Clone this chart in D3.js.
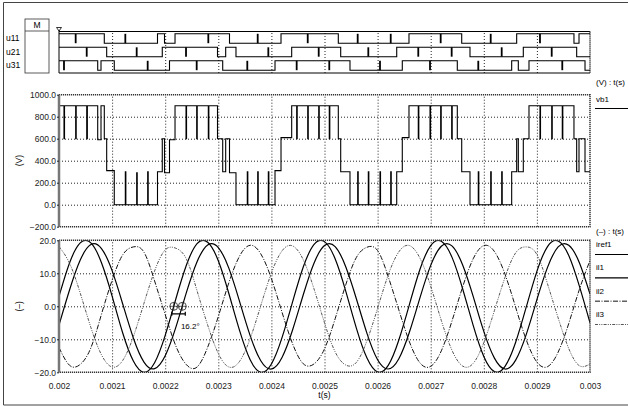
<!DOCTYPE html>
<html>
<head>
<meta charset="utf-8">
<script src="https://cdn.jsdelivr.net/npm/d3@7"></script>
<style>
  body { margin: 0; background: #fff; }
  svg { display: block; font-family: "Liberation Sans", Arial, sans-serif; }
  .grid line { stroke: #222; stroke-dasharray: 1,2; }
  .grid path { display: none; }
  .ticks path { display: none; }
  .ticks line { stroke: #222; }
  .ticks text { font-size: 8.5px; fill: #222; font-family: "Liberation Sans", Arial, sans-serif; }
</style>
</head>
<body>
<svg id="chart" width="628" height="407"></svg>
<script>
// ---------------- DATA ----------------

const timeDomain = [0.002, 0.003];
const timeTicks = [0.002, 0.0021, 0.0022, 0.0023, 0.0024, 0.0025, 0.0026, 0.0027, 0.0028, 0.0029, 0.003];
const gridTimes = [0.0021, 0.0022, 0.0023, 0.0024, 0.0025, 0.0026, 0.0027, 0.0028, 0.0029];

// digital gate signals: start level, switching instants, narrow pulses
const digitalNames = ["u11", "u21", "u31"];
const digitalStart = [1, 1, 1];
const u11Edges = [0.0020853, 0.0021855, 0.0021987, 0.0022185, 0.0023211, 0.0024181, 0.002526, 0.0026591, 0.0027584, 0.0028619, 0.0029698, 0.0029793];
const u11Pulses = [0.0020314, 0.0021249, 0.0022812, 0.0023742, 0.0024684, 0.0025625, 0.0026247, 0.0027188, 0.002813, 0.0029058];
const u21Edges = [0.0020898, 0.0021945, 0.0022985, 0.0023139, 0.0023333, 0.0024382, 0.0025305, 0.002636, 0.002774, 0.0028744, 0.0029749];
const u21Pulses = [0.0020522, 0.0021463, 0.0022392, 0.0023942, 0.0024891, 0.0025825, 0.0026766, 0.0027395, 0.0028337, 0.0029279];
const u31Edges = [0.0020729, 0.0020791, 0.0021041, 0.0022081, 0.0023083, 0.0024068, 0.002548, 0.0026465, 0.0027501, 0.0028525, 0.002865, 0.0028851, 0.0029906];
const u31Pulses = [0.0020094, 0.002167, 0.0022593, 0.0023546, 0.0024476, 0.002509, 0.0026045, 0.0026987, 0.0027896, 0.0029478];

// vb1 (V): step points [time, level]
const vb1 = [
  [0.002, 900],
  [0.0020094, 600], [0.0020104, 900],
  [0.0020314, 600], [0.0020324, 900],
  [0.0020522, 600], [0.0020534, 900],
  [0.0020729, 590], [0.0020791, 900], [0.0020853, 600], [0.0020898, 310], [0.0021041, 0],
  [0.0021249, 300], [0.0021259, 0],
  [0.0021463, 290], [0.0021473, 0],
  [0.002167, 300], [0.002168, 0],
  [0.0021855, 300], [0.0021945, 600], [0.0021987, 290], [0.0022081, 590], [0.0022185, 900],
  [0.0022392, 600], [0.0022402, 900],
  [0.0022593, 600], [0.0022603, 900],
  [0.0022812, 600], [0.0022822, 900],
  [0.0022985, 600], [0.0023083, 300], [0.0023139, 600], [0.0023211, 290], [0.0023333, 0],
  [0.0023546, 300], [0.0023556, 0],
  [0.0023742, 300], [0.0023752, 0],
  [0.0023942, 300], [0.0023952, 0],
  [0.0024068, 310], [0.0024181, 610], [0.0024382, 900],
  [0.0024476, 600], [0.0024486, 900],
  [0.0024684, 600], [0.0024694, 900],
  [0.0024891, 600], [0.0024901, 900],
  [0.002509, 600], [0.00251, 900],
  [0.002526, 600], [0.0025305, 300], [0.002548, 0],
  [0.0025625, 300], [0.0025635, 0],
  [0.0025825, 300], [0.0025835, 0],
  [0.0026045, 300], [0.0026055, 0],
  [0.0026247, 300], [0.0026257, 0],
  [0.002636, 300], [0.0026465, 610], [0.0026591, 900],
  [0.0026766, 600], [0.0026776, 900],
  [0.0026987, 600], [0.0026997, 900],
  [0.0027188, 600], [0.0027198, 900],
  [0.0027395, 600], [0.0027405, 900],
  [0.0027501, 600], [0.0027584, 300], [0.002774, 0],
  [0.0027896, 300], [0.0027906, 0],
  [0.002813, 300], [0.002814, 0],
  [0.0028337, 300], [0.0028347, 0],
  [0.0028525, 300], [0.0028619, 600], [0.002865, 300], [0.0028744, 600], [0.0028851, 900],
  [0.0029058, 600], [0.0029068, 900],
  [0.0029279, 600], [0.0029289, 900],
  [0.0029478, 600], [0.0029488, 900],
  [0.0029698, 600], [0.0029749, 300], [0.0029793, 600], [0.0029906, 300],
  [0.003, 300]
];
const voltTicks = [1000, 800, 600, 400, 200, 0, -200];
const voltGrid = [800, 600, 400, 200, 0];

// currents (–), read every 20 us
const sampleTimes = [0.002, 0.00202, 0.00204, 0.00206, 0.00208, 0.0021, 0.00212, 0.00214, 0.00216, 0.00218,
  0.0022, 0.00222, 0.00224, 0.00226, 0.00228, 0.0023, 0.00232, 0.00234, 0.00236, 0.00238,
  0.0024, 0.00242, 0.00244, 0.00246, 0.00248, 0.0025, 0.00252, 0.00254, 0.00256, 0.00258,
  0.0026, 0.00262, 0.00264, 0.00266, 0.00268, 0.0027, 0.00272, 0.00274, 0.00276, 0.00278,
  0.0028, 0.00282, 0.00284, 0.00286, 0.00288, 0.0029, 0.00292, 0.00294, 0.00296, 0.00298, 0.003];
const iref1 = [3.0, 13.2, 19.2, 19.2, 13.2, 3.1, -8.1, -16.6, -20.0, -17.1, -8.8,
  2.2, 12.5, 19.0, 19.4, 13.8, 3.8, -7.3, -16.2, -20.0, -17.5,
  -9.5, 1.4, 11.9, 18.7, 19.6, 14.4, 4.6, -6.6, -15.7, -19.9,
  -17.9, -10.2, 0.6, 11.3, 18.4, 19.7, 14.9, 5.4, -5.8, -15.2,
  -19.8, -18.2, -10.9, -0.2, 10.6, 18.1, 19.8, 15.4, 6.1, -5.0];
const il1 = [-5.7, 5.0, 14.0, 18.7, 17.5, 10.8, 0.7, -9.6, -16.9, -18.9, -15.0,
  -6.4, 4.2, 13.5, 18.6, 17.8, 11.5, 1.5, -8.9, -16.5, -19.0,
  -15.5, -7.1, 3.5, 13.0, 18.4, 18.1, 12.0, 2.3, -8.2, -16.2,
  -19.0, -15.9, -7.8, 2.7, 12.4, 18.2, 18.3, 12.6, 3.0, -7.6,
  -15.7, -19.0, -16.3, -8.5, 2.0, 11.8, 18.0, 18.5, 13.2, 3.7];
const il2 = [-12.5, -17.9, -17.6, -12.6, -2.4, 7.9, 15.6, 18.0, 16.4, 7.7, -2.5,
  -12.0, -17.7, -18.4, -12.4, -3.1, 7.2, 15.2, 18.5, 15.9, 8.4,
  -1.8, -11.4, -17.4, -17.5, -12.9, -3.8, 6.5, 14.8, 17.9, 16.9,
  9.0, -1.1, -10.8, -17.2, -18.2, -13.5, -4.5, 5.8, 14.4, 18.4,
  16.6, 9.7, -0.3, -10.2, -16.9, -18.3, -13.9, -5.2, 5.1, 13.9];
const il3 = [18.1, 13.0, 4.0, -6.4, -14.7, -18.4, -16.4, -9.2, 0.9, 10.7, 17.1,
  17.6, 14.3, 4.7, -5.7, -14.3, -18.4, -16.7, -9.8, 0.2, 10.1,
  16.8, 18.3, 14.1, 5.4, -5.0, -13.8, -17.8, -17.0, -10.4, -0.6,
  9.5, 16.5, 18.4, 14.5, 6.1, -4.3, -13.3, -18.1, -17.3, -11.0,
  -1.3, 8.8, 16.2, 18.0, 15.7, 6.8, -3.5, -12.8, -18.0, -17.5];
const currentTicks = [20, 10, 0, -10, -20];
const currentGrid = [10, 0, -10];

const currentNames = ["iref1", "il1", "il2", "il3"];
const phaseMarks = [0.0022162, 0.0022322];
const phaseLabel = "16.2°";

// ---------------- LAYOUT ----------------

const svg = d3.select("#chart");
const plotL = 59, plotR = 590;
const dig = { top: 31.5, bottom: 73 };
const volt = { top: 94.7, bottom: 226.7 };
const curr = { top: 240.3, bottom: 372.3 };
const font = 8.5;

const x = d3.scaleLinear().domain(timeDomain).range([plotL, plotR]);
const yV = d3.scaleLinear().domain([-200, 1000]).range([volt.bottom, volt.top]);
const yI = d3.scaleLinear().domain([-20, 20]).range([curr.bottom, curr.top]);
const rows = d3.scaleBand().domain(digitalNames).range([31.5, 72]);

// outer frame
svg.append("path")
  .attr("d", "M628,2.5 H3.5 V405 H628")
  .attr("fill", "none").attr("stroke", "#444").attr("stroke-width", 1);

// ---------------- DIGITAL PANEL ----------------

// M box
svg.append("rect").attr("x", 25).attr("y", 19).attr("width", 24).attr("height", 54)
  .attr("fill", "none").attr("stroke", "#333").attr("stroke-width", 0.8);
svg.append("line").attr("x1", 25).attr("x2", 49).attr("y1", 31).attr("y2", 31)
  .attr("stroke", "#333").attr("stroke-width", 0.8);
svg.append("text").attr("x", 37).attr("y", 28).attr("text-anchor", "middle")
  .attr("font-size", font).text("M");

svg.append("g").attr("class", "grid")
  .attr("transform", `translate(0,${dig.bottom})`)
  .call(d3.axisBottom(x).tickValues(gridTimes).tickSize(-(dig.bottom - dig.top)).tickFormat(""));

svg.append("line").attr("x1", plotL).attr("x2", plotR).attr("y1", dig.top).attr("y2", dig.top).attr("stroke", "#000");
svg.append("line").attr("x1", plotL).attr("x2", plotR).attr("y1", dig.bottom).attr("y2", dig.bottom).attr("stroke", "#000");
svg.append("line").attr("x1", plotL).attr("x2", plotL).attr("y1", 28).attr("y2", dig.bottom).attr("stroke", "#000");
svg.append("line").attr("x1", plotR).attr("x2", plotR).attr("y1", dig.top).attr("y2", dig.bottom)
  .attr("stroke", "#333").attr("stroke-width", 1.5).attr("stroke-dasharray", "1.2,0.8");
svg.append("path").attr("d", `M${plotL - 2.5},27.5 L${plotL + 2.5},27.5 L${plotL},31 Z`)
  .attr("fill", "#fff").attr("stroke", "#000").attr("stroke-width", 0.8);

const digitalEdges = [u11Edges, u21Edges, u31Edges];
const digitalPulses = [u11Pulses, u21Pulses, u31Pulses];

function stateSteps(start, edges) {
  const pts = [[timeDomain[0], start]];
  let s = start;
  edges.forEach(t => { s = 1 - s; pts.push([t, s]); });
  pts.push([timeDomain[1], s]);
  return pts;
}

digitalNames.forEach((name, i) => {
  const top = rows(name), bw = rows.bandwidth();
  const lvl = d3.scaleLinear().domain([0, 1]).range([top + bw - 1.8, top + 2.3]);
  const line = d3.line().x(d => x(d[0])).y(d => lvl(d[1])).curve(d3.curveStepAfter);

  svg.append("path")
    .datum(stateSteps(digitalStart[i], digitalEdges[i]))
    .attr("d", line)
    .attr("fill", "none").attr("stroke", "#000").attr("stroke-width", 1.1);

  svg.append("g").selectAll("line")
    .data(digitalPulses[i])
    .join("line")
    .attr("x1", d => x(d)).attr("x2", d => x(d))
    .attr("y1", lvl(0)).attr("y2", lvl(1))
    .attr("stroke", "#000").attr("stroke-width", 1.8);

  svg.append("text").attr("x", 6).attr("y", top + bw / 2 + 3)
    .attr("font-size", font).text(name);
});

// ---------------- PANEL HELPERS ----------------

function panelFrame(top, bottom) {
  svg.append("rect")
    .attr("x", plotL).attr("y", top).attr("width", plotR - plotL).attr("height", bottom - top)
    .attr("fill", "none").attr("stroke", "#333").attr("stroke-width", 1.5)
    .attr("stroke-dasharray", "1.2,0.8");
  svg.append("line").attr("x1", plotL).attr("x2", plotL).attr("y1", top).attr("y2", bottom)
    .attr("stroke", "#777").attr("stroke-width", 2.5);
}

function verticalGrid(top, bottom) {
  svg.append("g").attr("class", "grid")
    .attr("transform", `translate(0,${bottom})`)
    .call(d3.axisBottom(x).tickValues(gridTimes).tickSize(-(bottom - top)).tickFormat(""));
}

// ---------------- VOLTAGE PANEL ----------------

verticalGrid(volt.top, volt.bottom);
svg.append("g").attr("class", "grid")
  .attr("transform", `translate(${plotL},0)`)
  .call(d3.axisLeft(yV).tickValues(voltGrid).tickSize(-(plotR - plotL)).tickFormat(""));

svg.append("path")
  .datum(vb1)
  .attr("d", d3.line().x(d => x(d[0])).y(d => yV(d[1])).curve(d3.curveStepAfter))
  .attr("fill", "none").attr("stroke", "#000").attr("stroke-width", 1.1);

panelFrame(volt.top, volt.bottom);

svg.append("g").attr("class", "ticks")
  .attr("transform", `translate(${plotL},0)`)
  .call(d3.axisLeft(yV).tickValues(voltTicks).tickSize(2).tickPadding(1).tickFormat(d3.format(".1f")));

svg.append("text")
  .attr("transform", `translate(22,${(volt.top + volt.bottom) / 2}) rotate(-90)`)
  .attr("text-anchor", "middle").attr("font-size", font).text("(V)");

// ---------------- CURRENT PANEL ----------------

svg.append("clipPath").attr("id", "clipI")
  .append("rect").attr("x", plotL).attr("y", curr.top).attr("width", plotR - plotL).attr("height", curr.bottom - curr.top);

verticalGrid(curr.top, curr.bottom);
svg.append("g").attr("class", "grid")
  .attr("transform", `translate(${plotL},0)`)
  .call(d3.axisLeft(yI).tickValues(currentGrid).tickSize(-(plotR - plotL)).tickFormat(""));

const currentSeries = [iref1, il1, il2, il3];
const currentStyle = [
  { color: "#000", width: 1.2, dash: null },
  { color: "#000", width: 1.2, dash: null },
  { color: "#111", width: 1, dash: "5,1.5,1,1.5" },
  { color: "#555", width: 1, dash: "3,1.2,1,1.2,1,1.2" }
];

const curLine = d3.line()
  .x((d, i) => x(sampleTimes[i]))
  .y(d => yI(d))
  .curve(d3.curveNatural);

const curG = svg.append("g").attr("clip-path", "url(#clipI)");
currentSeries.forEach((vals, k) => {
  curG.append("path")
    .datum(vals)
    .attr("d", curLine)
    .attr("fill", "none")
    .attr("stroke", currentStyle[k].color)
    .attr("stroke-width", currentStyle[k].width)
    .attr("stroke-dasharray", currentStyle[k].dash);
});

panelFrame(curr.top, curr.bottom);

svg.append("g").attr("class", "ticks")
  .attr("transform", `translate(${plotL},0)`)
  .call(d3.axisLeft(yI).tickValues(currentTicks).tickSize(2).tickPadding(1).tickFormat(d3.format(".1f")));

svg.append("g").attr("class", "ticks")
  .attr("transform", `translate(0,${curr.bottom})`)
  .call(d3.axisBottom(x).tickValues(timeTicks).tickSize(0).tickPadding(10.5).tickFormat(d => String(+d.toFixed(4))));

svg.append("text").attr("x", x(0.0025)).attr("y", 397.5)
  .attr("text-anchor", "middle").attr("font-size", font).text("t(s)");

svg.append("text")
  .attr("transform", `translate(22,${yI(0)}) rotate(-90)`)
  .attr("text-anchor", "middle").attr("font-size", font).text("(–)");

// phase shift marker
const markY = yI(0);
svg.append("g").selectAll("circle")
  .data(phaseMarks)
  .join("circle")
  .attr("cx", d => x(d)).attr("cy", markY).attr("r", 4)
  .attr("fill", "none").attr("stroke", "#222").attr("stroke-width", 0.8);
svg.append("g").selectAll("path")
  .data(phaseMarks)
  .join("path")
  .attr("d", d => `M${x(d) - 4},${markY} H${x(d) + 4} M${x(d)},${markY - 4} V${markY + 4}`)
  .attr("stroke", "#222").attr("stroke-width", 0.7);
const m0 = x(phaseMarks[0]) - 2, m1 = x(phaseMarks[1]) + 3;
svg.append("path")
  .attr("d", `M${m0},${markY + 7.5} H${m1} M${m0},${markY + 5.5} V${markY + 9.5} M${m1},${markY + 5.5} V${markY + 9.5}`)
  .attr("stroke", "#000").attr("stroke-width", 1.2);
svg.append("text").attr("x", m1 + 5).attr("y", markY + 23)
  .attr("text-anchor", "middle").attr("font-size", 8).text(phaseLabel);

// ---------------- LEGEND ----------------

const legX = 596;
svg.append("text").attr("x", legX).attr("y", 85).attr("font-size", 8).text("(V) : t(s)");
svg.append("text").attr("x", legX).attr("y", 102).attr("font-size", 8).text("vb1");
svg.append("line").attr("x1", 595).attr("x2", 628).attr("y1", 108.5).attr("y2", 108.5)
  .attr("stroke", "#000").attr("stroke-width", 1.2);

svg.append("text").attr("x", legX).attr("y", 234).attr("font-size", 8).text("(–) : t(s)");
const legY = d3.scalePoint().domain(currentNames).range([247, 317]);
currentNames.forEach((name, k) => {
  svg.append("text").attr("x", legX).attr("y", legY(name)).attr("font-size", 8).text(name);
  svg.append("line").attr("x1", 595).attr("x2", 628)
    .attr("y1", legY(name) + 7.5).attr("y2", legY(name) + 7.5)
    .attr("stroke", currentStyle[k].color).attr("stroke-width", currentStyle[k].width)
    .attr("stroke-dasharray", currentStyle[k].dash);
});
</script>
</body>
</html>
